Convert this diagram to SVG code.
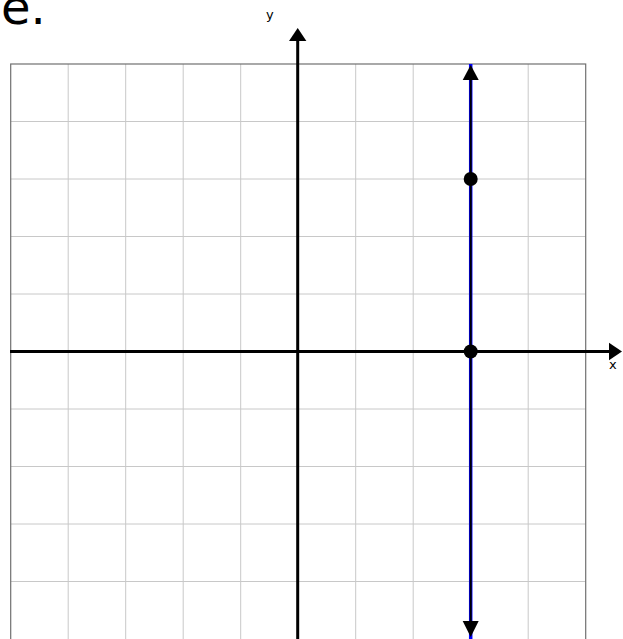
<svg xmlns="http://www.w3.org/2000/svg" width="623" height="639" viewBox="0 0 623 639">
<style>
.grid{stroke:#c8c8c8;stroke-width:1;fill:none}
.border{stroke:#707070;stroke-width:1.2;fill:none}
.axis{stroke:#000;stroke-width:3;fill:none}
.lbl{font-family:"DejaVu Sans",sans-serif;font-size:13px;fill:#000}
.big{font-family:"DejaVu Sans",sans-serif;font-size:48px;fill:#000}
</style>
<rect width="623" height="639" fill="#fff"/>
<text class="big" x="1" y="24">e.</text>
<g id="grid">
<path class="grid" d="M68.2 64V639M125.7 64V639M183.2 64V639M240.7 64V639M355.7 64V639M413.2 64V639M528.2 64V639M10.7 121.5H585.7M10.7 179H585.7M10.7 236.5H585.7M10.7 294H585.7M10.7 409H585.7M10.7 466.5H585.7M10.7 524H585.7M10.7 581.5H585.7"/>
<rect class="border" x="10.7" y="64" width="575" height="576"/>
</g>
<g id="connectors">
<path class="axis" d="M297.7 639V40"/>
<polygon points="297.7,28 289,41 306.4,41" fill="#000"/>
<path class="axis" d="M10 351.5H610"/>
<polygon points="622,351.5 609,342.8 609,360.2" fill="#000"/>
<path d="M470.7 64V639" stroke="#0000ff" stroke-width="3.5"/>
<path d="M470.7 78V623" stroke="#000" stroke-width="2"/>
<polygon points="470.7,65 462.7,80 478.7,80" fill="#000"/>
<polygon points="470.7,637 462.7,621 478.7,621" fill="#000"/>
</g>
<g id="labels">
<text class="lbl" x="266" y="19">y</text>
<text class="lbl" x="609" y="369">x</text>
</g>
<g id="point1"><circle cx="470.7" cy="179" r="7" fill="#000"/></g>
<g id="point2"><circle cx="470.7" cy="351.5" r="7" fill="#000"/></g>
</svg>
